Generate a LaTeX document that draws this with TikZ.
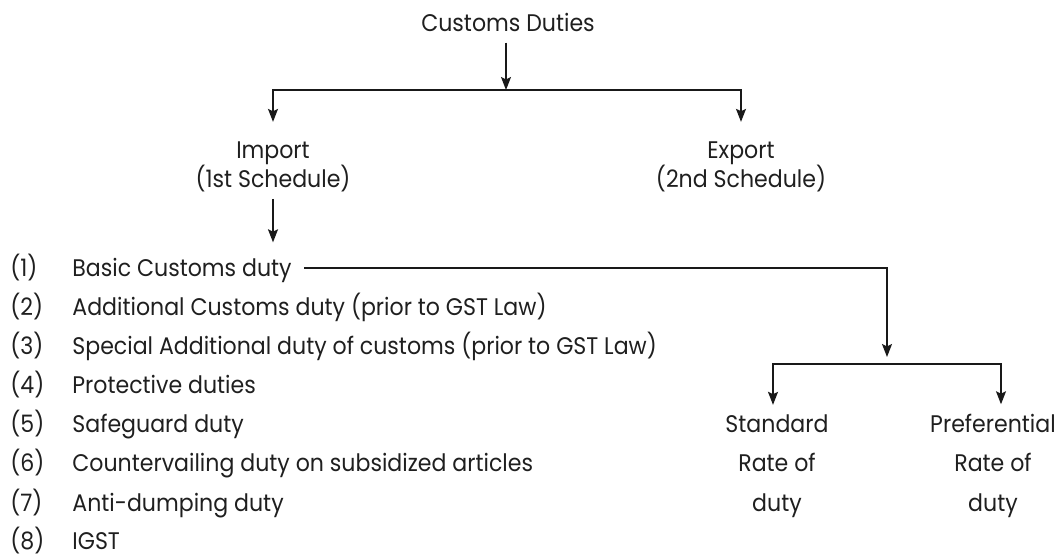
\documentclass[tikz,border=0pt]{standalone}
\usepackage{fontspec}
\setmainfont{Poppins}[FakeStretch=0.92]
\usetikzlibrary{arrows.meta}

\begin{document}
\begin{tikzpicture}[x=0.5pt, y=-0.5pt, >={Stealth[length=6.5pt, width=5pt, inset=1.2pt]},
    txt/.style={inner sep=0pt, font=\fontsize{12pt}{14.5pt}\selectfont, text=black!88},
    lnk/.style={line width=0.75pt, black!90}]
    \useasboundingbox (0,0) rectangle (1060,555);

    % 顶层
    \node[txt, anchor=base] (cd) at (508,32) {Customs Duties};
    \node[txt, anchor=base] (imp) at (273,159) {Import};
    \node[txt, anchor=base] (imp2) at (273,188) {(1st Schedule)};
    \node[txt, anchor=base] (exp) at (741,159) {Export};
    \node[txt, anchor=base] (exp2) at (741,188) {(2nd Schedule)};

    % 分支
    \coordinate (j1) at (506,90);
    \draw[lnk, ->, shorten <=5pt] (cd.south -| j1) -- (j1);
    \draw[lnk, ->] (j1) -| ([yshift=10pt]imp.north);
    \draw[lnk, ->] (j1) -| ([yshift=10pt]exp.north);

    % 进口关税列表
    \node[txt, anchor=base west] (n1) at (10,277) {(1)};
    \node[txt, anchor=base west] (t1) at (72,277) {Basic Customs duty};
    \node[txt, anchor=base west] (n2) at (10,316) {(2)};
    \node[txt, anchor=base west] (t2) at (72,316) {Additional Customs duty (prior to GST Law)};
    \node[txt, anchor=base west] (n3) at (10,355) {(3)};
    \node[txt, anchor=base west] (t3) at (72,355) {Special Additional duty of customs (prior to GST Law)};
    \node[txt, anchor=base west] (n4) at (10,394) {(4)};
    \node[txt, anchor=base west] (t4) at (72,394) {Protective duties};
    \node[txt, anchor=base west] (n5) at (10,433) {(5)};
    \node[txt, anchor=base west] (t5) at (72,433) {Safeguard duty};
    \node[txt, anchor=base west] (n6) at (10,472) {(6)};
    \node[txt, anchor=base west] (t6) at (72,472) {Countervailing duty on subsidized articles};
    \node[txt, anchor=base west] (n7) at (10,511) {(7)};
    \node[txt, anchor=base west] (t7) at (72,511) {Anti-dumping duty};
    \node[txt, anchor=base west] (n8) at (10,549) {(8)};
    \node[txt, anchor=base west] (t8) at (72,549) {IGST};

    \draw[lnk, ->, shorten <=3pt, shorten >=8pt] (imp2.south) -- (imp2.south |- t1.north);

    % 税率
    \node[txt, anchor=base] (std) at (777,433) {Standard};
    \node[txt, anchor=base] (std2) at (777,472) {Rate of};
    \node[txt, anchor=base] (std3) at (777,511) {duty};
    \node[txt, anchor=base] (pref) at (993,433) {Preferential};
    \node[txt, anchor=base] (pref2) at (993,472) {Rate of};
    \node[txt, anchor=base] (pref3) at (993,511) {duty};

    \coordinate (j2) at (887,364);
    \draw[lnk, ->] ([shift={(6pt,4.5pt)}]t1.base east) -| ([yshift=3.5pt]j2);
    \draw[lnk, ->] (j2) -| ([shift={(-2pt,5pt)}]std.north);
    \draw[lnk, ->] (j2) -| ([shift={(4pt,5pt)}]pref.north);
\end{tikzpicture}
\end{document}
